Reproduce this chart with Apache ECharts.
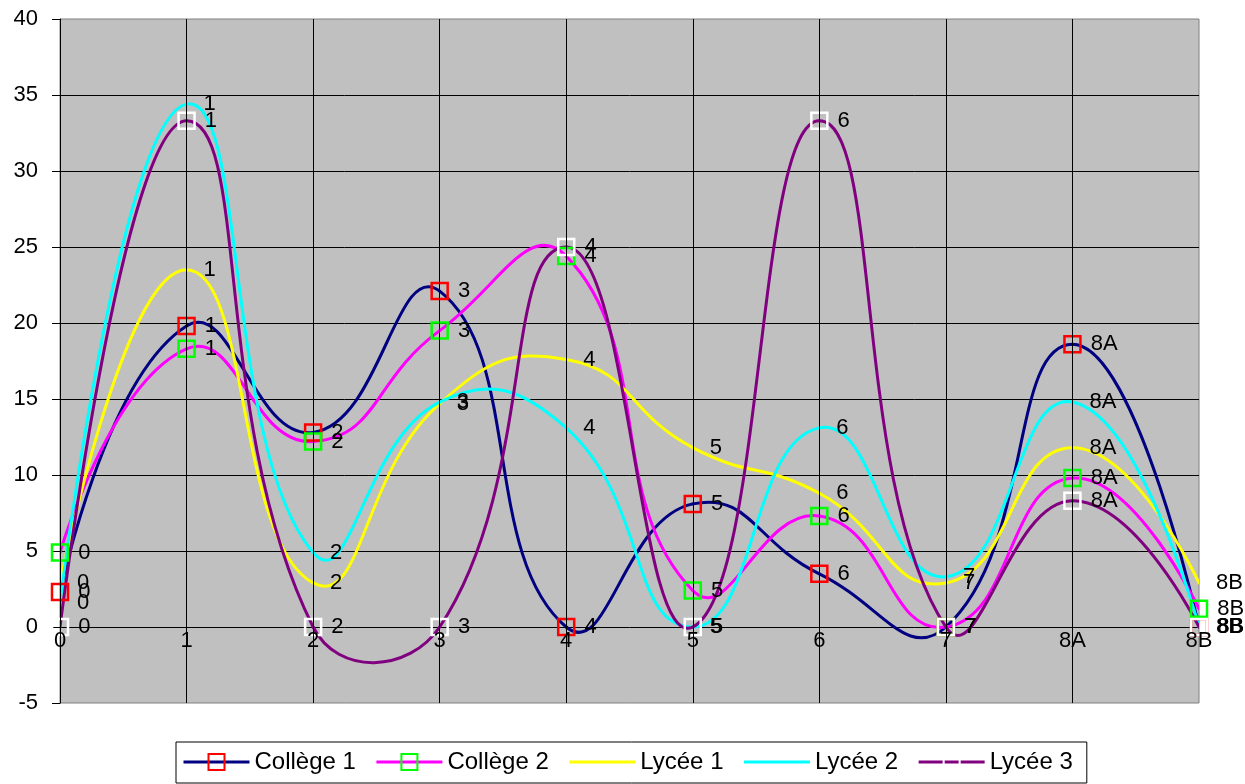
<!DOCTYPE html>
<html>
<head>
<meta charset="utf-8">
<script src="https://cdn.jsdelivr.net/npm/echarts@6/dist/echarts.min.js"></script>
<style>
  html, body { margin: 0; padding: 0; background: #ffffff; }
  #chart { width: 1245px; height: 784px; }
</style>
</head>
<body>
<div id="chart"></div>
<script>
// Categories along the horizontal axis
const categories = ['0', '1', '2', '3', '4', '5', '6', '7', '8A', '8B'];

// Percentages per category for each school
const college1 = [2.3, 19.8, 12.8, 22.1, 0, 8.1, 3.5, 0, 18.6, 0];
const college2 = [4.9, 18.3, 12.2, 19.5, 24.4, 2.4, 7.3, 0, 9.8, 1.2];
const lycee1 = [2.9, 23.5, 2.9, 14.7, 17.6, 11.8, 8.8, 2.9, 11.8, 2.9];
const lycee2 = [1.6, 34.4, 4.9, 14.8, 13.1, 0, 13.1, 3.3, 14.8, 0];
const lycee3 = [0, 33.3, 0, 0, 25, 0, 33.3, 0, 8.3, 0];

// Value axis range
const yMin = -5, yMax = 40, yStep = 5;

const FONT = "'Liberation Sans', Arial, sans-serif";
const SMOOTH = 0.5;

// Plot area
const GRID = { left: 60, right: 46, top: 19, bottom: 81 };
const CHART_H = 784;
const plotH = CHART_H - GRID.top - GRID.bottom;
// The category labels sit on the value 0 line
const xAxisOffset = -plotH * (0 - yMin) / (yMax - yMin);

// Smoothed curve drawn segment by segment (free cubic Bezier, the curve
// is allowed to swing past the data points like a classic spreadsheet chart).
function curveSeries(id, values, color) {
  return {
    id: id,
    type: 'custom',
    data: values.map(function (v, i) { return [i, v]; }),
    encode: { x: 0, y: 1 },
    silent: true,
    animation: false,
    clip: true,
    renderItem: function (params, api) {
      const i = params.dataIndex;
      const n = values.length;
      if (i >= n - 1) return null;
      const pt = function (k) { return api.coord([k, values[k]]); };
      function ctrl(k) {
        const p = pt(k);
        if (k === 0 || k === n - 1) return { cin: p, cout: p };
        const a = pt(k - 1), b = pt(k + 1);
        const vx = b[0] - a[0], vy = b[1] - a[1];
        const d0 = Math.hypot(p[0] - a[0], p[1] - a[1]);
        const d1 = Math.hypot(b[0] - p[0], b[1] - p[1]);
        const r = d1 / (d0 + d1);
        return {
          cin: [p[0] - vx * SMOOTH * (1 - r), p[1] - vy * SMOOTH * (1 - r)],
          cout: [p[0] + vx * SMOOTH * r, p[1] + vy * SMOOTH * r]
        };
      }
      const p0 = pt(i), p1 = pt(i + 1);
      const c0 = ctrl(i).cout, c1 = ctrl(i + 1).cin;
      return {
        type: 'bezierCurve',
        shape: {
          x1: p0[0], y1: p0[1], x2: p1[0], y2: p1[1],
          cpx1: c0[0], cpy1: c0[1], cpx2: c1[0], cpy2: c1[1]
        },
        style: { stroke: color, lineWidth: 3, fill: null, lineCap: 'round' }
      };
    }
  };
}

// Markers, point labels and legend entry for one school
function pointSeries(name, values, markerColor) {
  return {
    name: name,
    type: 'line',
    data: values,
    symbol: 'rect',
    symbolSize: 16,
    showAllSymbol: true,
    lineStyle: { opacity: 0 },
    itemStyle: {
      color: 'transparent',
      borderColor: markerColor || 'transparent',
      borderWidth: markerColor ? 2.5 : 0
    },
    label: {
      show: true,
      position: 'right',
      distance: 9,
      formatter: '{b}',
      color: '#000000',
      fontFamily: FONT,
      fontSize: 22
    },
    emphasis: { disabled: true },
    animation: false
  };
}

const schools = [
  { name: 'Collège 1', values: college1, line: '#000080', marker: '#FF0000' },
  { name: 'Collège 2', values: college2, line: '#FF00FF', marker: '#00FF00' },
  { name: 'Lycée 1', values: lycee1, line: '#FFFF00', marker: null },
  { name: 'Lycée 2', values: lycee2, line: '#00FFFF', marker: null },
  { name: 'Lycée 3', values: lycee3, line: '#800080', marker: '#FFFFFF' }
];

const series = [];
schools.forEach(function (s, k) {
  series.push(curveSeries('curve' + k, s.values, s.line));
  series.push(pointSeries(s.name, s.values, s.marker));
});

const chart = echarts.init(document.getElementById('chart'), null, { renderer: 'canvas' });

chart.setOption({
  backgroundColor: '#ffffff',
  animation: false,
  grid: {
    left: GRID.left, right: GRID.right, top: GRID.top, bottom: GRID.bottom,
    show: true,
    backgroundColor: '#C0C0C0',
    borderColor: '#808080',
    borderWidth: 1
  },
  legend: {
    left: 176,
    top: 742,
    orient: 'horizontal',
    itemWidth: 66,
    itemHeight: 20,
    itemGap: 19,
    padding: [8, 14, 9, 6],
    borderColor: '#000000',
    borderWidth: 1,
    backgroundColor: '#ffffff',
    textStyle: { color: '#000000', fontFamily: FONT, fontSize: 24 },
    selectedMode: false,
    data: schools.map(function (s) {
      return { name: s.name, lineStyle: { color: s.line, width: 3, opacity: 1, type: 'solid' } };
    })
  },
  xAxis: {
    type: 'category',
    data: categories,
    boundaryGap: false,
    position: 'bottom',
    offset: xAxisOffset,
    z: 10,
    axisLine: { show: false },
    axisTick: { show: false },
    axisLabel: { color: '#000000', fontFamily: FONT, fontSize: 22, margin: 3, interval: 0 },
    splitLine: { show: true, showMaxLine: false, lineStyle: { color: '#000000', width: 1 } }
  },
  yAxis: {
    type: 'value',
    min: yMin,
    max: yMax,
    interval: yStep,
    axisLine: { show: true, onZero: false, lineStyle: { color: '#000000', width: 1 } },
    axisTick: { show: true, inside: false, length: 8, lineStyle: { color: '#000000' } },
    axisLabel: { color: '#000000', fontFamily: FONT, fontSize: 22, margin: 22 },
    splitLine: { show: true, showMaxLine: false, showMinLine: false, lineStyle: { color: '#000000', width: 1 } }
  },
  series: series
});
</script>
</body>
</html>
